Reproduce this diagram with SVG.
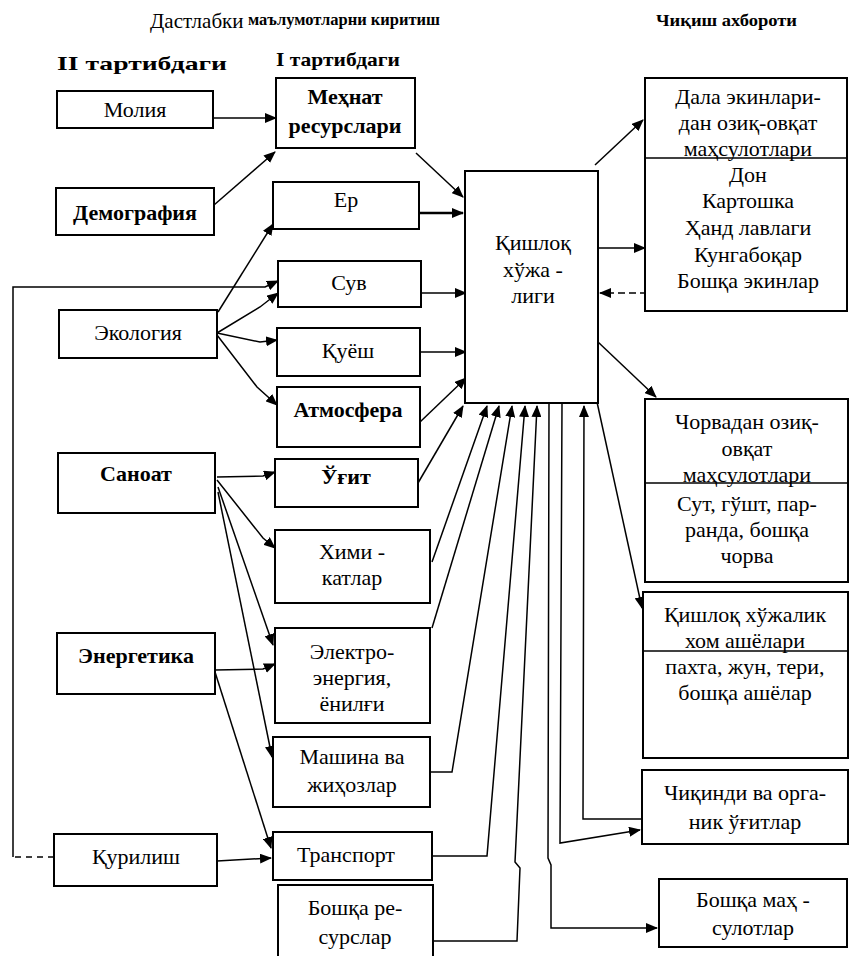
<svg xmlns="http://www.w3.org/2000/svg" width="850" height="956" viewBox="0 0 850 956">
<defs>
<marker id="ah" viewBox="0 0 12 10" refX="11" refY="5" markerWidth="12" markerHeight="10" markerUnits="userSpaceOnUse" orient="auto">
<path d="M0,0 L12,5 L0,10 z" fill="#000"/>
</marker>
</defs>
<style>
.box{fill:#fff;stroke:#000;stroke-width:2}
.div{stroke:#000;stroke-width:1.5}
.t{font-family:"Liberation Serif","Times New Roman",serif;font-size:22px;text-anchor:middle;fill:#000}
.b{font-weight:bold}
.h{font-family:"Liberation Serif","Times New Roman",serif;fill:#000}
.c{fill:none;stroke:#000;stroke-width:1.5;marker-end:url(#ah)}
.cn{fill:none;stroke:#000;stroke-width:1.5}
</style>
<rect width="850" height="956" fill="#fff"/>

<g id="headers">
<text class="h" x="150" y="28" font-size="21">Дастлабки</text>
<text class="h" x="248" y="25" font-size="17" font-weight="bold" textLength="192" lengthAdjust="spacingAndGlyphs">маълумотларни киритиш</text>
<text class="h" x="656" y="26" font-size="17" font-weight="bold" textLength="141" lengthAdjust="spacingAndGlyphs">Чиқиш ахбороти</text>
<text class="h" x="57" y="70" font-size="19" font-weight="bold" textLength="170" lengthAdjust="spacingAndGlyphs">II тартибдаги</text>
<text class="h" x="276" y="66" font-size="19" font-weight="bold" textLength="124" lengthAdjust="spacingAndGlyphs">I тартибдаги</text>
</g>

<g id="connectors">
<path class="c" d="M213,118 L276,118"/>
<path class="c" d="M214,205 L275,152"/>
<path class="c" d="M416,153 L463,197"/>
<path class="c" d="M419,213 L463,213" style="stroke-width:2.5"/>
<path class="c" d="M421,293 L466,293"/>
<path class="c" d="M420,352 L466,352"/>
<path class="c" d="M420,422 L466,378"/>
<path class="c" d="M218,312 L273,224"/>
<path class="c" d="M217,333 L260,307 L278,293"/>
<path class="c" d="M217,333 L260,342 L277,340"/>
<path class="c" d="M217,335 L257,387 L277,405"/>
<path class="cn" d="M54,857 L13,857" stroke-dasharray="6,5"/>
<path class="c" d="M13,857 L13,287 L265,287 L278,281"/>
<path class="c" d="M217,477 L263,476 L275,472"/>
<path class="c" d="M217,480 L263,538 L275,548"/>
<path class="c" d="M218,487 L273,645"/>
<path class="c" d="M218,492 L272,757"/>
<path class="c" d="M215,670 L263,669 L275,664"/>
<path class="c" d="M215,672 L271,848"/>
<path class="c" d="M217,861 L271,858"/>
<path class="c" d="M418,483 L463,406"/>
<path class="c" d="M432,562 L487,406"/>
<path class="c" d="M432,628 L499,406"/>
<path class="c" d="M430,772 L452,772 L512,406"/>
<path class="c" d="M432,856 L487,856 L525,406"/>
<path class="c" d="M433,941 L517,941 L520,868 L515,862 L537,406"/>
<path class="c" d="M549,403 L548,858 L551,865 L551,928 L657,928"/>
<path class="c" d="M562,403 L560,843 L640,830"/>
<path class="c" d="M642,819 L583,819 L584,406"/>
<path class="c" d="M595,165 L643,120"/>
<path class="c" d="M598,248 L645,248"/>
<path class="c" d="M647,293 L600,293" stroke-dasharray="7,4"/>
<path class="c" d="M598,342 L656,397"/>
<path class="c" d="M597,402 L642,608"/>
</g>

<g id="molia"><rect class="box" x="57" y="91" width="156" height="37"/><text class="t" x="135" y="117">Молия</text></g>
<g id="demografiya"><rect class="box" x="56" y="188" width="158" height="47"/><text class="t b" x="135" y="220">Демография</text></g>
<g id="ekologiya"><rect class="box" x="59" y="310" width="158" height="48"/><text class="t" x="138" y="340">Экология</text></g>
<g id="sanoat"><rect class="box" x="58" y="453" width="157" height="60"/><text class="t b" x="136" y="481">Саноат</text></g>
<g id="energetika"><rect class="box" x="57" y="633" width="158" height="61"/><text class="t b" x="136" y="663">Энергетика</text></g>
<g id="qurilish"><rect class="box" x="54" y="834" width="163" height="52"/><text class="t" x="136" y="864">Қурилиш</text></g>

<g id="mehnat"><rect class="box" x="276" y="78" width="139" height="70"/><text class="t b" x="345" y="104">Меҳнат</text><text class="t b" x="345" y="133">ресурслари</text></g>
<g id="er"><rect class="box" x="273" y="182" width="146" height="47"/><text class="t" x="346" y="207">Ер</text></g>
<g id="suv"><rect class="box" x="278" y="261" width="143" height="46"/><text class="t" x="349" y="290">Сув</text></g>
<g id="quyosh"><rect class="box" x="277" y="328" width="143" height="48"/><text class="t" x="348" y="358">Қуёш</text></g>
<g id="atmosfera"><rect class="box" x="277" y="387" width="143" height="60"/><text class="t b" x="348" y="417">Атмосфера</text></g>
<g id="ugit"><rect class="box" x="275" y="459" width="143" height="48"/><text class="t b" x="346" y="484">Ўғит</text></g>
<g id="kimyo"><rect class="box" x="275" y="530" width="155" height="73"/><text class="t" x="352" y="559">Хими -</text><text class="t" x="352" y="585">катлар</text></g>
<g id="elektro"><rect class="box" x="275" y="628" width="155" height="95"/><text class="t" x="352" y="659">Электро-</text><text class="t" x="352" y="685">энергия,</text><text class="t" x="352" y="711">ёнилғи</text></g>
<g id="mashina"><rect class="box" x="273" y="737" width="157" height="70"/><text class="t" x="352" y="764">Машина ва</text><text class="t" x="352" y="792">жиҳозлар</text></g>
<g id="transport"><rect class="box" x="273" y="832" width="159" height="48"/><text class="t" x="346" y="862">Транспорт</text></g>
<g id="boshqa-res"><rect class="box" x="278" y="885" width="155" height="72"/><text class="t" x="355" y="915">Бошқа ре-</text><text class="t" x="355" y="944">сурслар</text></g>

<g id="qishloq"><rect class="box" x="465" y="171" width="133" height="232"/><text class="t" x="533" y="250">Қишлоқ</text><text class="t" x="533" y="277">хўжа -</text><text class="t" x="533" y="303">лиги</text></g>

<g id="dala"><rect class="box" x="645" y="78" width="202" height="233"/><line class="div" x1="645" y1="158" x2="847" y2="158"/>
<text class="t" x="748" y="104">Дала экинлари-</text><text class="t" x="748" y="130">дан озиқ-овқат</text><text class="t" x="748" y="156">маҳсулотлари</text>
<text class="t" x="748" y="182">Дон</text><text class="t" x="748" y="208">Картошка</text><text class="t" x="748" y="235">Ҳанд лавлаги</text><text class="t" x="748" y="262">Кунгабоқар</text><text class="t" x="748" y="288">Бошқа экинлар</text></g>
<g id="chorva"><rect class="box" x="645" y="399" width="203" height="183"/><line class="div" x1="645" y1="483" x2="848" y2="483"/>
<text class="t" x="747" y="429">Чорвадан озиқ-</text><text class="t" x="747" y="456">овқат</text><text class="t" x="747" y="482">маҳсулотлари</text>
<text class="t" x="747" y="511">Сут, гўшт, пар-</text><text class="t" x="747" y="537">ранда, бошқа</text><text class="t" x="747" y="563">чорва</text></g>
<g id="xom-ashyo"><rect class="box" x="643" y="592" width="205" height="166"/><line class="div" x1="643" y1="651" x2="848" y2="651"/>
<text class="t" x="745" y="622">Қишлоқ хўжалик</text><text class="t" x="745" y="648">хом ашёлари</text><text class="t" x="745" y="674">пахта, жун, тери,</text><text class="t" x="745" y="700">бошқа ашёлар</text></g>
<g id="chiqindi"><rect class="box" x="642" y="770" width="206" height="74"/><text class="t" x="745" y="800">Чиқинди ва орга-</text><text class="t" x="745" y="829">ник ўғитлар</text></g>
<g id="boshqa-mahsulot"><rect class="box" x="659" y="879" width="188" height="68"/><text class="t" x="753" y="907">Бошқа маҳ -</text><text class="t" x="753" y="935">сулотлар</text></g>
</svg>
